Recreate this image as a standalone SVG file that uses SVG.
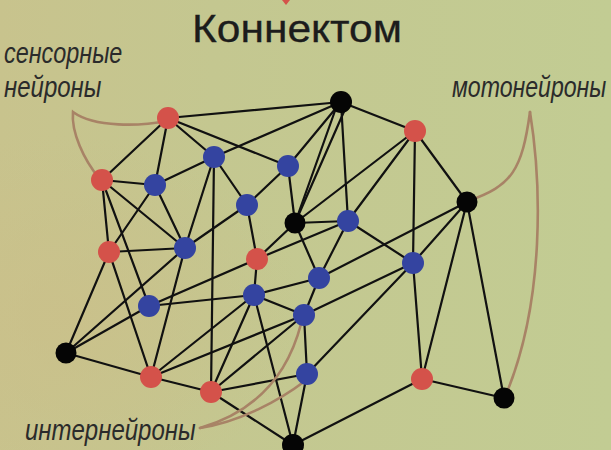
<svg xmlns="http://www.w3.org/2000/svg" width="611" height="450" viewBox="0 0 611 450">
<defs>
<linearGradient id="bg" x1="0" y1="0" x2="1" y2="0">
<stop offset="0" stop-color="#c8c38d"/>
<stop offset="0.35" stop-color="#c4c790"/>
<stop offset="1" stop-color="#c2cc93"/>
</linearGradient>
<radialGradient id="blot" cx="0.1" cy="0.7" r="0.4">
<stop offset="0" stop-color="#cbbf89" stop-opacity="0.7"/>
<stop offset="1" stop-color="#cbbf89" stop-opacity="0"/>
</radialGradient>
</defs>
<style>
.e line{stroke:#111;stroke-width:2.2;stroke-linecap:round}
.r{fill:#d4524a}
.b{fill:#3444a0}
.k{fill:#050505}
.ann{fill:none;stroke:#a88366;stroke-width:2.6;stroke-linecap:round}
.lab{font-family:"Liberation Sans",sans-serif;font-style:italic;font-size:30px;fill:#2b2b2b}
.title{font-family:"Liberation Sans",sans-serif;fill:#1c1c1c;stroke:#1c1c1c;stroke-width:0.3}
</style>
<rect width="611" height="450" fill="url(#bg)"/>
<rect width="611" height="450" fill="url(#blot)"/>
<polygon points="282,0 290,0 286,5" fill="#d4524a"/>
<g id="title"><text class="title" x="192" y="42" font-size="38" textLength="210" lengthAdjust="spacingAndGlyphs">Коннектом</text></g>
<g id="labels">
<text class="lab" transform="translate(4,63) scale(0.78,1)">сенсорные</text>
<text class="lab" transform="translate(4,97) scale(0.8,1)">нейроны</text>
<text class="lab" transform="translate(452,97) scale(0.77,1)">мотонейроны</text>
<text class="lab" transform="translate(25,440) scale(0.8,1)">интернейроны</text>
</g>
<g id="connectors" class="e">
<line x1="168" y1="118" x2="341" y2="102"/>
<line x1="168" y1="118" x2="214" y2="157"/>
<line x1="168" y1="118" x2="288" y2="166"/>
<line x1="168" y1="118" x2="102" y2="180"/>
<line x1="168" y1="118" x2="155" y2="185"/>
<line x1="341" y1="102" x2="214" y2="157"/>
<line x1="341" y1="102" x2="288" y2="166"/>
<line x1="336" y1="108" x2="295" y2="223"/>
<line x1="346" y1="107" x2="295" y2="223"/>
<line x1="341" y1="102" x2="348" y2="221"/>
<line x1="341" y1="102" x2="415" y2="131"/>
<line x1="415" y1="131" x2="295" y2="223"/>
<line x1="415" y1="131" x2="348" y2="221"/>
<line x1="415" y1="131" x2="413" y2="263"/>
<line x1="415" y1="131" x2="467" y2="202"/>
<line x1="467" y1="202" x2="319" y2="278"/>
<line x1="467" y1="202" x2="413" y2="263"/>
<line x1="467" y1="202" x2="422" y2="379"/>
<line x1="467" y1="202" x2="504" y2="398"/>
<line x1="413" y1="263" x2="348" y2="221"/>
<line x1="413" y1="263" x2="422" y2="379"/>
<line x1="413" y1="263" x2="304" y2="315"/>
<line x1="413" y1="263" x2="307" y2="374"/>
<line x1="102" y1="180" x2="155" y2="185"/>
<line x1="102" y1="180" x2="109" y2="252"/>
<line x1="102" y1="180" x2="185" y2="248"/>
<line x1="102" y1="180" x2="149" y2="306"/>
<line x1="155" y1="185" x2="214" y2="157"/>
<line x1="155" y1="185" x2="109" y2="252"/>
<line x1="155" y1="185" x2="185" y2="248"/>
<line x1="214" y1="157" x2="185" y2="248"/>
<line x1="214" y1="157" x2="211" y2="392"/>
<line x1="214" y1="157" x2="247" y2="205"/>
<line x1="247" y1="205" x2="288" y2="166"/>
<line x1="247" y1="205" x2="257" y2="259"/>
<line x1="247" y1="205" x2="185" y2="248"/>
<line x1="288" y1="166" x2="295" y2="223"/>
<line x1="295" y1="223" x2="257" y2="259"/>
<line x1="295" y1="223" x2="348" y2="221"/>
<line x1="295" y1="223" x2="319" y2="278"/>
<line x1="257" y1="259" x2="348" y2="221"/>
<line x1="257" y1="259" x2="254" y2="295"/>
<line x1="257" y1="259" x2="149" y2="306"/>
<line x1="348" y1="221" x2="319" y2="278"/>
<line x1="319" y1="278" x2="254" y2="295"/>
<line x1="319" y1="278" x2="304" y2="315"/>
<line x1="254" y1="295" x2="149" y2="306"/>
<line x1="254" y1="295" x2="304" y2="315"/>
<line x1="254" y1="295" x2="151" y2="377"/>
<line x1="254" y1="295" x2="211" y2="392"/>
<line x1="254" y1="295" x2="293" y2="445"/>
<line x1="304" y1="315" x2="307" y2="374"/>
<line x1="304" y1="315" x2="151" y2="377"/>
<line x1="304" y1="315" x2="211" y2="392"/>
<line x1="307" y1="374" x2="293" y2="445"/>
<line x1="307" y1="374" x2="211" y2="392"/>
<line x1="109" y1="252" x2="185" y2="248"/>
<line x1="109" y1="252" x2="66" y2="353"/>
<line x1="109" y1="252" x2="151" y2="377"/>
<line x1="185" y1="248" x2="66" y2="353"/>
<line x1="185" y1="248" x2="151" y2="377"/>
<line x1="149" y1="306" x2="66" y2="353"/>
<line x1="66" y1="353" x2="151" y2="377"/>
<line x1="151" y1="377" x2="211" y2="392"/>
<line x1="211" y1="392" x2="293" y2="445"/>
<line x1="422" y1="379" x2="504" y2="398"/>
<line x1="422" y1="379" x2="293" y2="445"/>
</g>
<g id="annotations">
<path class="ann" d="M168,121 C140,126 95,128 73,112 C71,132 84,160 99,178"/>
<path class="ann" d="M530,112 C522,170 512,186 468,201"/>
<path class="ann" d="M530,112 C541,180 546,300 505,397"/>
<path class="ann" d="M200,428 C245,415 285,385 301,324"/>
<path class="ann" d="M200,428 C240,422 280,400 305,381"/>
</g>
<g id="nodes">
<circle id="n-r1" class="r" cx="168" cy="118" r="11"/>
<circle id="n-k1" class="k" cx="341" cy="102" r="11"/>
<circle id="n-r2" class="r" cx="415" cy="131" r="11"/>
<circle id="n-b1" class="b" cx="214" cy="157" r="11"/>
<circle id="n-b2" class="b" cx="288" cy="166" r="11"/>
<circle id="n-r3" class="r" cx="102" cy="180" r="11"/>
<circle id="n-b3" class="b" cx="155" cy="185" r="11"/>
<circle id="n-b4" class="b" cx="247" cy="205" r="11"/>
<circle id="n-k2" class="k" cx="295" cy="223" r="10.5"/>
<circle id="n-b5" class="b" cx="348" cy="221" r="11"/>
<circle id="n-k3" class="k" cx="467" cy="202" r="10.5"/>
<circle id="n-r4" class="r" cx="109" cy="252" r="11"/>
<circle id="n-b6" class="b" cx="185" cy="248" r="11"/>
<circle id="n-r5" class="r" cx="257" cy="259" r="11"/>
<circle id="n-b7" class="b" cx="319" cy="278" r="11"/>
<circle id="n-b8" class="b" cx="413" cy="263" r="11"/>
<circle id="n-b9" class="b" cx="149" cy="306" r="11"/>
<circle id="n-b10" class="b" cx="254" cy="295" r="11"/>
<circle id="n-b11" class="b" cx="304" cy="315" r="11"/>
<circle id="n-k4" class="k" cx="66" cy="353" r="10.5"/>
<circle id="n-r6" class="r" cx="151" cy="377" r="11"/>
<circle id="n-r7" class="r" cx="211" cy="392" r="11"/>
<circle id="n-b12" class="b" cx="307" cy="374" r="11"/>
<circle id="n-r8" class="r" cx="422" cy="379" r="11"/>
<circle id="n-k5" class="k" cx="504" cy="398" r="10.5"/>
<circle id="n-k6" class="k" cx="293" cy="445" r="11"/>
</g>
</svg>
